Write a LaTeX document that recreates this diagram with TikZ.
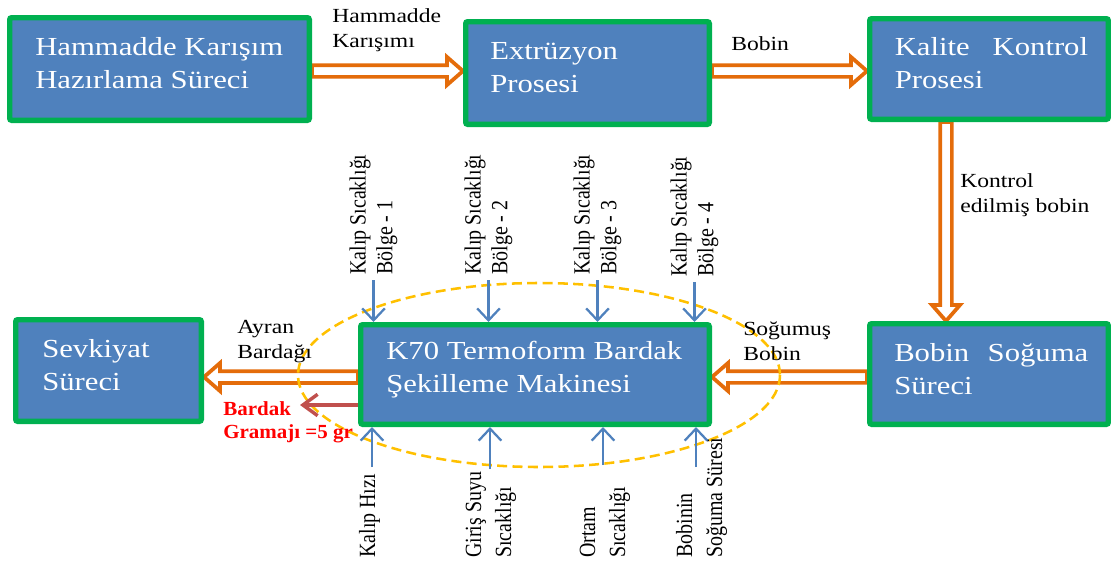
\documentclass[tikz,border=0pt]{standalone}
\usepackage{fontspec}
\setmainfont{Liberation Serif}
\newfontfamily\widefont[FakeStretch=1.18]{Liberation Serif}
\newfontfamily\redfont[FakeStretch=1.05]{Liberation Serif}
\newfontfamily\vertfont[FakeStretch=0.86]{Liberation Serif}
\usetikzlibrary{calc,arrows.meta}
\definecolor{boxblue}{HTML}{4F81BD}
\definecolor{boxgreen}{HTML}{00B050}
\definecolor{arrorange}{HTML}{E46C0A}
\definecolor{ellyellow}{HTML}{FFC000}
\definecolor{redarrow}{HTML}{C0504D}
\definecolor{redtext}{HTML}{FF0000}
\pgfdeclarelayer{backarrows}
\pgfdeclarelayer{ellipselayer}
\pgfsetlayers{backarrows,ellipselayer,main}
\begin{document}
\begin{tikzpicture}[x=0.75pt,y=-0.75pt,
 proc/.style={draw=boxgreen, fill=boxblue, line width=4pt, rounded corners=1.5pt, inner sep=0pt},
 ptext/.style={anchor=north west, inner sep=0pt, text=white, font=\widefont\fontsize{19.5}{24.75}\selectfont, align=left},
 lbl/.style={anchor=north west, inner sep=0pt, font=\widefont\fontsize{15}{19}\selectfont, align=left},
 vlbl/.style={anchor=west, rotate=90, inner sep=0pt, font=\vertfont\fontsize{17.4}{20}\selectfont, align=left},
 vlblb/.style={anchor=west, rotate=90, inner sep=0pt, font=\vertfont\fontsize{17.4}{22.5}\selectfont, align=left},
 hollow/.style={draw=arrorange, fill=white, line width=2.8pt, line join=miter},
 rarrow/.style={hollow, to path={let \p1=(\tikztostart), \p2=(\tikztotarget) in
   (\x1,\y1+4.4pt) -- (\x2-12pt,\y1+4.4pt) -- (\x2-12pt,\y1+10.5pt) -- (\x2,\y1) -- (\x2-12pt,\y1-10.5pt) -- (\x2-12pt,\y1-4.4pt) -- (\x1,\y1-4.4pt) -- cycle}},
 larrow/.style={hollow, to path={let \p1=(\tikztostart), \p2=(\tikztotarget) in
   (\x1,\y1+4.4pt) -- (\x2+12pt,\y1+4.4pt) -- (\x2+12pt,\y1+10.5pt) -- (\x2,\y1) -- (\x2+12pt,\y1-10.5pt) -- (\x2+12pt,\y1-4.4pt) -- (\x1,\y1-4.4pt) -- cycle}},
 darrow/.style={hollow, to path={let \p1=(\tikztostart), \p2=(\tikztotarget) in
   (\x1-4.4pt,\y1) -- (\x1-4.4pt,\y2+12pt) -- (\x1-10.5pt,\y2+12pt) -- (\x1,\y2) -- (\x1+10.5pt,\y2+12pt) -- (\x1+4.4pt,\y2+12pt) -- (\x1+4.4pt,\y1) -- cycle}},
 barrow/.style={draw=boxblue, line width=1.7pt, -{Straight Barb[length=9pt,width=17pt]}},
 rarr/.style={draw=redarrow, line width=2.6pt, -{Straight Barb[length=11pt,width=16pt]}},
]
\useasboundingbox (0,0) rectangle (1111,568);

% process boxes
\node[proc, minimum width=224.75pt, minimum height=77pt] (h) at (159.5,69) {};
\node[proc, minimum width=182.75pt, minimum height=77pt] (e) at (587.5,73) {};
\node[proc, minimum width=179pt, minimum height=75.5pt] (k) at (989,69) {};
\node[proc, minimum width=179pt, minimum height=75.5pt] (b) at (989,374) {};
\node[proc, minimum width=261.5pt, minimum height=74.75pt] (m) at (535,374.5) {};
\node[proc, minimum width=139.25pt, minimum height=76.25pt] (s) at (108.5,370.5) {};

% orange hollow arrows (behind)
\begin{pgfonlayer}{backarrows}
\draw[rarrow] ([yshift=-1.5pt]h.east) to (e.west);
\draw[rarrow] ([yshift=1.5pt]e.east) to (k.west);
\draw[darrow] ([xshift=-32.25pt]k.south) to (b.north);
\draw[larrow] ([yshift=-2.25pt]b.west) to (m.east);
\draw[larrow] ([yshift=-1.9pt]m.west) to (s.east);
\end{pgfonlayer}

% dashed ellipse
\begin{pgfonlayer}{ellipselayer}
\draw[ellyellow, line width=1.9pt, dash pattern=on 7.5pt off 4pt] (539,375) ellipse [x radius=241, y radius=92];
\end{pgfonlayer}

% box texts
\node[ptext] (th) at (35,37.2) {Hammadde Karışım\\Hazırlama Süreci};
\node[ptext] (te) at (490,41.9) {Extrüzyon\\Prosesi};
\node[ptext] (tk) at (894.5,37.2) {\makebox[145pt][s]{Kalite Kontrol}\\Prosesi};
\node[ptext] (tb) at (894,343.2) {\makebox[145.5pt][s]{Bobin Soğuma}\\Süreci};
\node[ptext] (tm) at (386,341.2) {K70 Termoform Bardak\\Şekilleme Makinesi};
\node[ptext] (ts) at (42,339) {Sevkiyat\\Süreci};

% connector labels
\node[lbl] (l1) at (332,8.3) {Hammadde\\Karışımı};
\node[lbl] (l2) at (731,36.3) {Bobin};
\node[lbl] (l3) at (960,173.3) {Kontrol\\edilmiş bobin};
\node[lbl] (l4) at (743,321.5) {Soğumuş\\Bobin};
\node[lbl] (l5) at (237,319.8) {Ayran\\Bardağı};

% red output
\node[anchor=north west, inner sep=0pt, text=redtext, font=\redfont\bfseries\fontsize{15}{17.25}\selectfont, align=left] (rt) at (223,401.5) {Bardak\\Gramajı =5 gr};
\coordinate (rtip) at (300,405);
\draw[rarr] (m.west |- rtip) -- (rtip);

% top inputs
\node[vlbl] (v1) at (373.5,275) {Kalıp Sıcaklığı\\Bölge - 1};
\node[vlbl] (v2) at (488.5,275) {Kalıp Sıcaklığı\\Bölge - 2};
\node[vlbl] (v3) at (597.5,275) {Kalıp Sıcaklığı\\Bölge - 3};
\node[vlbl] (v4) at (694.5,277) {Kalıp Sıcaklığı\\Bölge - 4};
\draw[barrow, shorten <=3.75pt] (v1.west) -- (v1.west |- m.north);
\draw[barrow, shorten <=3.75pt] (v2.west) -- (v2.west |- m.north);
\draw[barrow, shorten <=3.75pt] (v3.west) -- (v3.west |- m.north);
\draw[barrow, shorten <=3.75pt] (v4.west) -- (v4.west |- m.north);

% bottom inputs
\node[vlblb] (w1) at (369.5,558) {Kalıp Hızı};
\node[vlblb] (w2) at (491,558) {Giriş Suyu\\Sıcaklığı};
\node[vlblb] (w3) at (605,558) {Ortam\\Sıcaklığı};
\node[vlblb] (w4) at (701.5,558) {Bobinin\\Soğuma Süresi};
\coordinate (c1) at (372,467);
\coordinate (c2) at (490,469);
\coordinate (c3) at (603,465);
\coordinate (c4) at (696,467);
\draw[barrow] (c1) -- (c1 |- m.south);
\draw[barrow] (c2) -- (c2 |- m.south);
\draw[barrow] (c3) -- (c3 |- m.south);
\draw[barrow] (c4) -- (c4 |- m.south);
\end{tikzpicture}
\end{document}
